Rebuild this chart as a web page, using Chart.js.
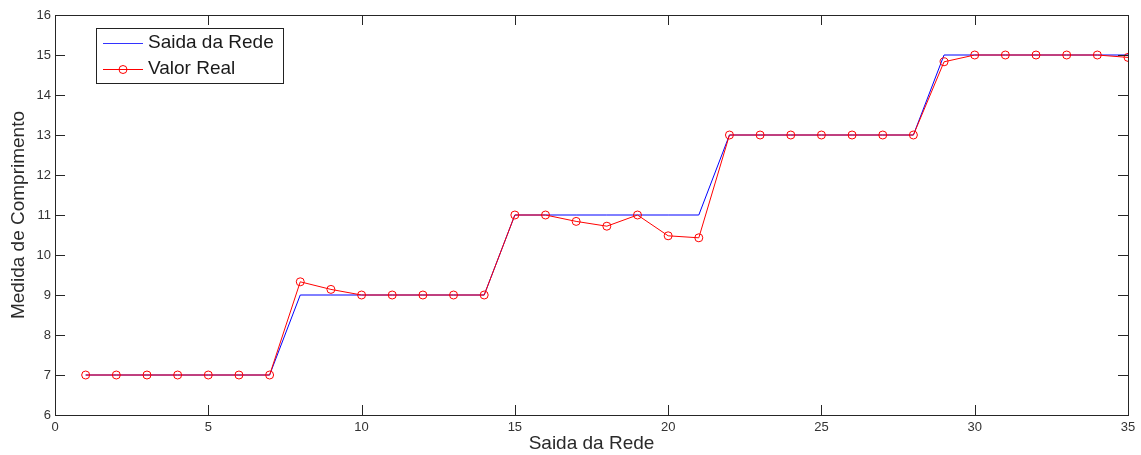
<!DOCTYPE html>
<html>
<head>
    <meta charset="utf-8" />
    <title>Saida da Rede</title>
    <script src="https://cdn.jsdelivr.net/npm/chart.js"></script>
    <style>
        html, body { margin: 0; padding: 0; background: #fff; }
        #wrap { width: 1141px; height: 455px; position: relative; }
    </style>
</head>
<body>
    <div id="wrap">
        <canvas id="lineChart"></canvas>
    </div>
<script>
    // amostras 1..35
    const amostras = [1, 2, 3, 4, 5, 6, 7, 8, 9, 10, 11, 12, 13, 14, 15, 16, 17, 18, 19, 20,
        21, 22, 23, 24, 25, 26, 27, 28, 29, 30, 31, 32, 33, 34, 35]
    const saidaRede = [7, 7, 7, 7, 7, 7, 7, 9, 9, 9, 9, 9, 9, 9, 11, 11, 11, 11, 11, 11,
        11, 13, 13, 13, 13, 13, 13, 13, 15, 15, 15, 15, 15, 15, 15]
    const valorReal = [7, 7, 7, 7, 7, 7, 7, 9.33, 9.14, 9, 9, 9, 9, 9, 11, 11, 10.84, 10.72, 11, 10.48,
        10.43, 13, 13, 13, 13, 13, 13, 13, 14.83, 15, 15, 15, 15, 15, 14.94]
    const xTicks = [0, 5, 10, 15, 20, 25, 30, 35]
    const yTicks = [6, 7, 8, 9, 10, 11, 12, 13, 14, 15, 16]

    function pares(xs, ys) {
        return xs.map(function (x, i) { return { x: x, y: ys[i] } })
    }

    const fonte = '"Liberation Sans", Arial, sans-serif'

    // caixa do eixo com marcas para dentro (estilo matlab)
    const caixaPlugin = {
        id: 'caixa',
        afterDraw: function (chart) {
            const ctx = chart.ctx
            const a = chart.chartArea
            const sx = chart.scales.x
            const sy = chart.scales.y
            const t = 10
            ctx.save()
            ctx.strokeStyle = '#262626'
            ctx.lineWidth = 1
            ctx.beginPath()
            xTicks.forEach(function (v) {
                const px = Math.round(sx.getPixelForValue(v)) + 0.5
                ctx.moveTo(px, a.bottom); ctx.lineTo(px, a.bottom - t)
                ctx.moveTo(px, a.top); ctx.lineTo(px, a.top + t)
            })
            yTicks.forEach(function (v) {
                const py = Math.round(sy.getPixelForValue(v)) + 0.5
                ctx.moveTo(a.left, py); ctx.lineTo(a.left + t, py)
                ctx.moveTo(a.right, py); ctx.lineTo(a.right - t, py)
            })
            ctx.stroke()
            ctx.strokeRect(Math.round(a.left) + 0.5, Math.round(a.top) + 0.5,
                Math.round(a.right - a.left), Math.round(a.bottom - a.top))

            // legenda
            const lx = a.left + 41, ly = a.top + 13, lw = 187, lh = 55
            ctx.fillStyle = '#fff'
            ctx.fillRect(lx, ly, lw, lh)
            ctx.strokeStyle = '#222'
            ctx.strokeRect(lx + 0.5, ly + 0.5, lw, lh)
            ctx.font = '19px ' + fonte
            ctx.textBaseline = 'middle'
            ctx.fillStyle = '#1a1a1a'

            ctx.strokeStyle = '#3333ff'
            ctx.beginPath(); ctx.moveTo(lx + 7, ly + 15.5); ctx.lineTo(lx + 47, ly + 15.5); ctx.stroke()
            ctx.fillText('Saida da Rede', lx + 52, ly + 15)

            ctx.strokeStyle = '#ff0000'
            ctx.beginPath(); ctx.moveTo(lx + 7, ly + 41.5); ctx.lineTo(lx + 47, ly + 41.5); ctx.stroke()
            ctx.beginPath(); ctx.arc(lx + 27, ly + 41.5, 4, 0, Math.PI * 2); ctx.stroke()
            ctx.fillText('Valor Real', lx + 52, ly + 41)
            ctx.restore()
        }
    }

    new Chart(document.getElementById('lineChart'), {
        type: 'line',
        data: {
            datasets: [{
                label: 'Saida da Rede',
                data: pares(amostras, saidaRede),
                borderColor: '#0000ff',
                borderWidth: 1,
                pointRadius: 0,
                order: 1
            }, {
                label: 'Valor Real',
                data: pares(amostras, valorReal),
                borderColor: '#ff0000',
                borderWidth: 1,
                pointRadius: 4,
                pointStyle: 'circle',
                pointBackgroundColor: 'rgba(0,0,0,0)',
                pointBorderColor: '#ff0000',
                pointBorderWidth: 1,
                order: 0
            }]
        },
        plugins: [caixaPlugin],
        options: {
            responsive: true,
            maintainAspectRatio: false,
            animation: false,
            layout: { padding: { top: 15, right: 13, left: 0, bottom: 0 } },
            plugins: {
                legend: { display: false },
                tooltip: { enabled: false }
            },
            scales: {
                x: {
                    type: 'linear',
                    min: 0,
                    max: 35,
                    grid: { display: false, drawTicks: false },
                    border: { display: false },
                    afterBuildTicks: function (s) { s.ticks = xTicks.map(function (v) { return { value: v } }) },
                    afterFit: function (s) { s.height = 40 },
                    ticks: {
                        padding: 5,
                        color: '#333',
                        font: { family: fonte, size: 13 },
                        maxRotation: 0
                    },
                    title: {
                        display: true,
                        text: 'Saida da Rede',
                        color: '#2a2a2a',
                        font: { family: fonte, size: 19 },
                        padding: { top: 0, bottom: 0 }
                    }
                },
                y: {
                    min: 6,
                    max: 16,
                    grid: { display: false, drawTicks: false },
                    border: { display: false },
                    afterBuildTicks: function (s) { s.ticks = yTicks.map(function (v) { return { value: v } }) },
                    afterFit: function (s) { s.width = 55 },
                    ticks: {
                        padding: 4,
                        color: '#333',
                        font: { family: fonte, size: 13 }
                    },
                    title: {
                        display: true,
                        text: 'Medida de Comprimento',
                        color: '#2a2a2a',
                        font: { family: fonte, size: 19 },
                        padding: { top: 7, bottom: 0 }
                    }
                }
            }
        }
    })
</script>
</body>
</html>
